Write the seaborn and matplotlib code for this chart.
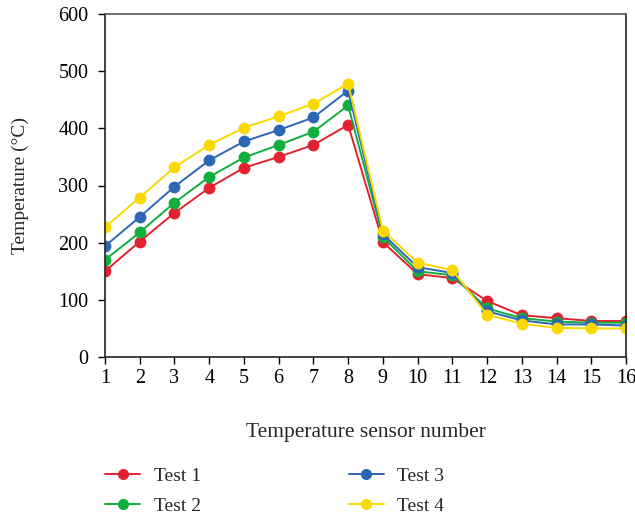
import matplotlib
matplotlib.use("Agg")
import matplotlib.pyplot as plt
import seaborn as sns
import pandas as pd
from matplotlib.lines import Line2D

sensors = list(range(1, 17))
test1 = [150, 202, 252, 296, 331, 350, 371, 406, 201, 145, 138, 98, 73, 68, 63, 63]
test2 = [170, 218, 270, 315, 349, 371, 394, 440, 210, 150, 143, 85, 68, 62, 60, 60]
test3 = [194, 245, 298, 344, 377, 397, 419, 466, 215, 157, 147, 80, 64, 57, 57, 55]
test4 = [227, 279, 332, 371, 401, 421, 443, 478, 221, 165, 152, 74, 58, 51, 50, 50]
series_names = ["Test 1", "Test 2", "Test 3", "Test 4"]
colors = ["#E3222F", "#10AF3C", "#2C67B3", "#FBD800"]

rows = []
for name, vals in zip(series_names, [test1, test2, test3, test4]):
    for s, v in zip(sensors, vals):
        rows.append({"Sensor": s, "Temperature": v, "Test": name})
df = pd.DataFrame(rows)

sns.set_style("ticks")
plt.rcParams["font.family"] = ["Liberation Serif", "DejaVu Serif"]

fig = plt.figure(figsize=(6.35, 5.2), dpi=100)
ax = fig.add_axes([105/635, 1 - 357/520, (626-105)/635, (357-14)/520])

sns.lineplot(data=df, x="Sensor", y="Temperature", hue="Test",
             palette=colors, marker="o", markersize=8.5, markeredgewidth=0,
             linewidth=1.4, ax=ax, legend=False)

ax.set_xlim(1, 16)
ax.set_ylim(0, 600)
ax.set_xticks(sensors)
ax.set_yticks(range(0, 601, 100))
ax.tick_params(labelsize=14.5, direction="out", length=5, width=1, colors="black")
ax.tick_params(axis="y", pad=7)
ax.set_xlabel("Temperature sensor number", fontsize=15.5, labelpad=25)
ax.set_ylabel("Temperature (°C)", fontsize=14, labelpad=21)
for sp in ax.spines.values():
    sp.set_visible(True)
    sp.set_linewidth(1.2)
    sp.set_color("#222222")
ax.spines["top"].set_color("#555555")

handles = [Line2D([0], [0], color=c, marker="o", markersize=8, markeredgewidth=0,
                  linewidth=1.4) for c in colors]
fig.legend(handles, series_names, loc="upper left",
           bbox_to_anchor=(105/635, 1 - 467/520), ncol=2, frameon=False,
           fontsize=14, handlelength=1.8, columnspacing=7.6,
           labelspacing=0.65, handletextpad=0.7, borderpad=0, borderaxespad=0)

fig.savefig("out.png", dpi=100)
